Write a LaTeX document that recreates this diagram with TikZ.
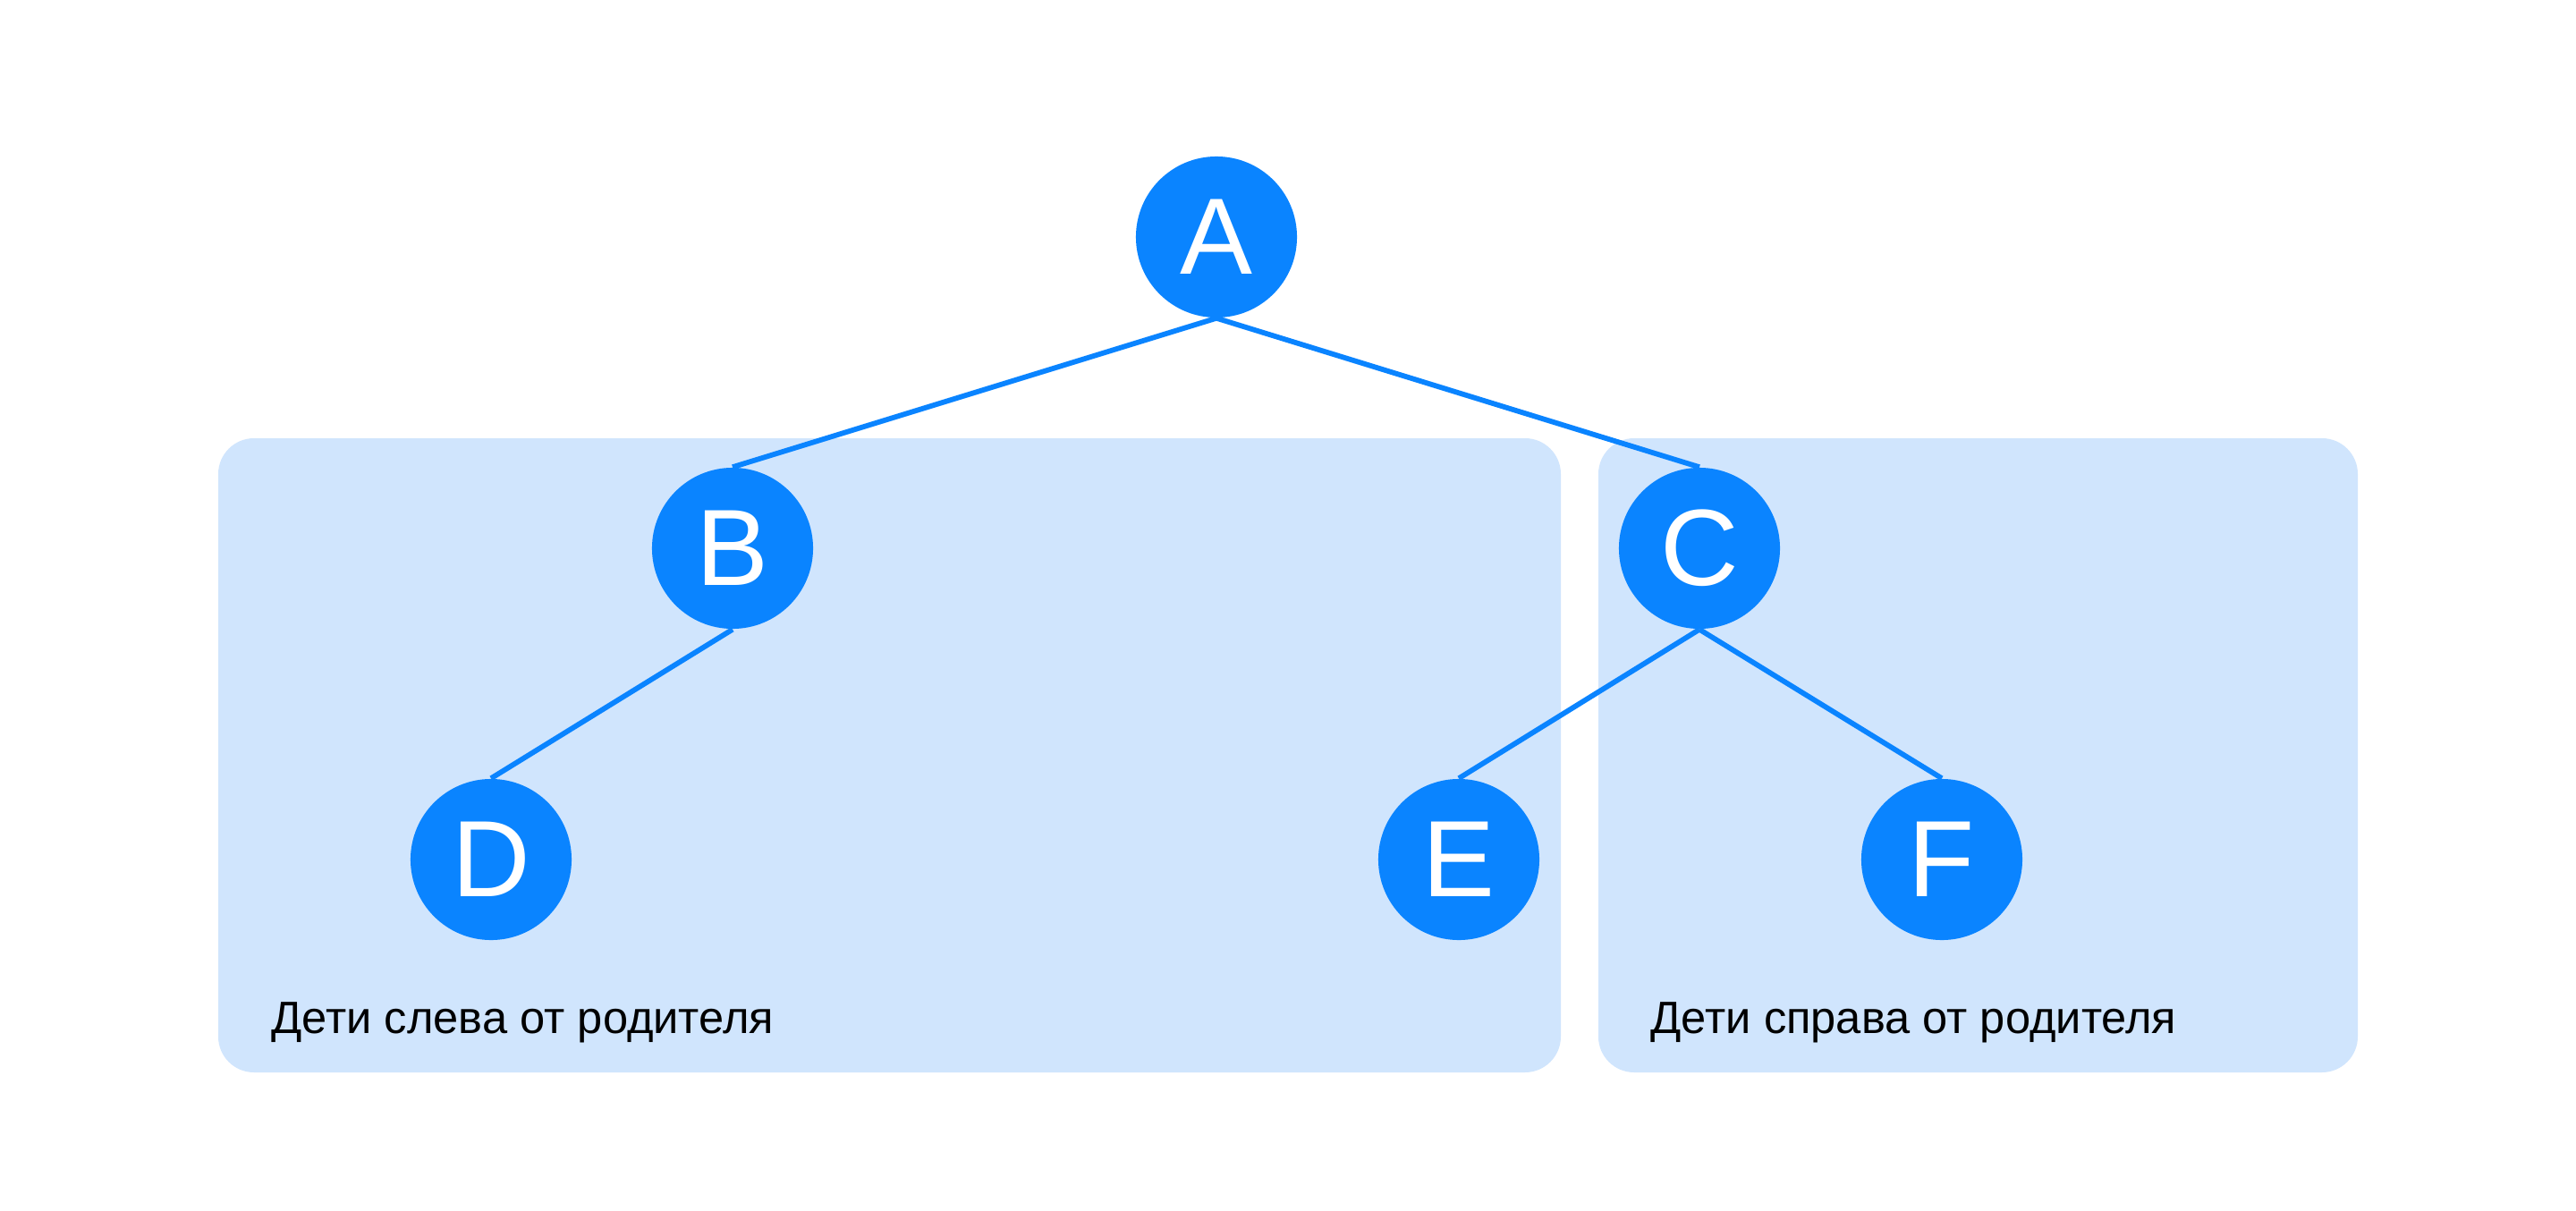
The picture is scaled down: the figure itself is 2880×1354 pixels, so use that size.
\documentclass[tikz,border=0pt]{standalone}
\usepackage{fontspec}
\setmainfont{Liberation Sans}
\definecolor{nodeblue}{HTML}{0A84FF}
\definecolor{panelblue}{HTML}{D0E5FD}
\begin{document}
\begin{tikzpicture}[x=0.01cm,y=-0.01cm,
  treenode/.style={circle,fill=nodeblue,minimum size=1.8cm,inner sep=0pt,
    text=white,font=\fontsize{34.5}{36}\selectfont},
  edge/.style={draw=nodeblue,line width=0.058cm},
  panel/.style={fill=panelblue,rounded corners=0.4cm},
  caption/.style={anchor=base west,inner sep=0pt,text=black,
    font=\fontsize{14.4}{16}\selectfont}]
  \useasboundingbox (0,0) rectangle (2880,1354);
  \fill[white] (0,0) rectangle (2880,1354);
  % side panels
  \fill[panel] (244,490) rectangle (1745,1199);
  \fill[panel] (1787,490) rectangle (2636,1199);
  % tree nodes
  \node[treenode] (A) at (1360,265) {A};
  \node[treenode] (B) at (819,613) {B};
  \node[treenode] (C) at (1900,613) {C};
  \node[treenode] (D) at (549,961) {D};
  \node[treenode] (E) at (1631,961) {E};
  \node[treenode] (F) at (2171,961) {F};
  % edges
  \draw[edge] (A.south) -- (B.north);
  \draw[edge] (A.south) -- (C.north);
  \draw[edge] (B.south) -- (D.north);
  \draw[edge] (C.south) -- (E.north);
  \draw[edge] (C.south) -- (F.north);
  % captions
  \node[caption] (Lcap) at (303,1155) {Дети слева от родителя};
  \node[caption] (Rcap) at (1845,1155) {Дети справа от родителя};
\end{tikzpicture}
\end{document}
